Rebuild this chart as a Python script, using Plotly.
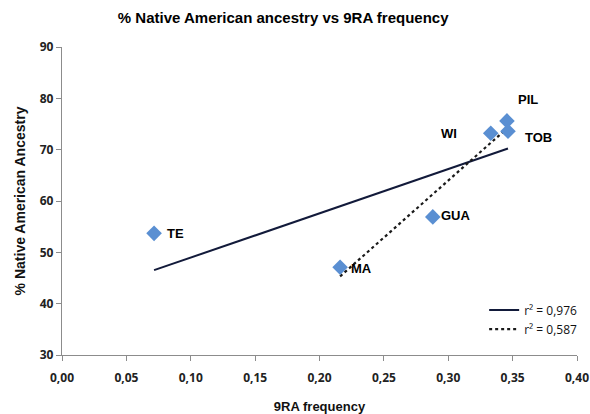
import numpy as np
import plotly.graph_objects as go

# Population samples: 9RA allele frequency vs % Native American ancestry
populations = ["TE", "MA", "GUA", "WI", "PIL", "TOB"]
freq_9ra = [0.0715, 0.216, 0.288, 0.333, 0.3456, 0.3464]
native_ancestry = [53.7, 47.1, 56.9, 73.2, 75.6, 73.6]

# Subset used for the second fit (TE excluded)
subset = ["MA", "GUA", "WI", "PIL", "TOB"]

legend_labels = ["r² = 0,976", "r² = 0,587"]

x_ticks = [0.0, 0.05, 0.10, 0.15, 0.20, 0.25, 0.30, 0.35, 0.40]
x_tick_text = ["0,00", "0,05", "0,10", "0,15", "0,20", "0,25", "0,30", "0,35", "0,40"]
y_ticks = [30, 40, 50, 60, 70, 80, 90]

# label offsets (pixels) relative to each marker
label_offsets = {
    "TE": (21, 0), "MA": (21, -1), "GUA": (23, 1),
    "WI": (-42, 0), "PIL": (21, 21), "TOB": (31, -6),
}

x_all = np.array(freq_9ra)
y_all = np.array(native_ancestry)
idx = [populations.index(p) for p in subset]
x_sub, y_sub = x_all[idx], y_all[idx]


def fit_line(x, y):
    m, b = np.polyfit(x, y, 1)
    xs = np.array([x.min(), x.max()])
    return xs, m * xs + b


fx1, fy1 = fit_line(x_all, y_all)
fx2, fy2 = fit_line(x_sub, y_sub)

fig = go.Figure()

fig.add_trace(go.Scatter(
    x=fx1, y=fy1, mode="lines", name=legend_labels[0],
    line=dict(color="#121a3a", width=2),
))
fig.add_trace(go.Scatter(
    x=fx2, y=fy2, mode="lines", name=legend_labels[1],
    line=dict(color="#1a1a1a", width=2.2, dash="dot"),
))
fig.add_trace(go.Scatter(
    x=freq_9ra, y=native_ancestry, mode="markers", showlegend=False,
    marker=dict(symbol="diamond", size=12, color="#5a8fd2",
                line=dict(width=0)),
))

for name, xv, yv in zip(populations, freq_9ra, native_ancestry):
    dx, dy = label_offsets[name]
    fig.add_annotation(
        x=xv, y=yv, text=f"<b>{name}</b>", showarrow=False,
        xshift=dx, yshift=dy,
        font=dict(family="Liberation Sans", size=13, color="#000000"),
    )

axis_font = dict(family="Open Sans, Liberation Sans", size=12, color="#222222",
                 weight="bold")

fig.update_layout(
    width=590, height=414,
    margin=dict(l=62, r=13, t=47, b=59, autoexpand=False),
    paper_bgcolor="white", plot_bgcolor="white",
    title=dict(
        text="<b>% Native American ancestry vs 9RA frequency</b>",
        x=0.48, xanchor="center", y=0.956, yanchor="middle",
        font=dict(family="Liberation Sans", size=15, color="#000000"),
    ),
    xaxis=dict(
        range=[0, 0.40], tickvals=x_ticks, ticktext=x_tick_text,
        showgrid=False, zeroline=False, showline=True, automargin=False,
        linecolor="#8c8c8c", linewidth=1.3,
        ticks="outside", ticklen=5, tickcolor="#8c8c8c",
        tickfont=axis_font, ticklabelstandoff=6,
        title=dict(text="<b>9RA frequency</b>", standoff=20,
                   font=dict(family="Liberation Sans", size=13, color="#111111")),
    ),
    yaxis=dict(
        range=[30, 90], tickvals=y_ticks,
        showgrid=False, zeroline=False, showline=True, automargin=False,
        linecolor="#8c8c8c", linewidth=1.3,
        ticks="outside", ticklen=5, tickcolor="#8c8c8c",
        tickfont=axis_font,
        title=dict(text="<b>% Native American Ancestry</b>", standoff=10,
                   font=dict(family="Liberation Sans", size=14, color="#111111")),
    ),
    legend=dict(
        x=1.01, y=0.115, xanchor="right", yanchor="middle",
        bgcolor="rgba(0,0,0,0)", itemwidth=30, tracegroupgap=0,
        font=dict(family="Open Sans, Liberation Sans", size=12, color="#111111"),
    ),
    showlegend=True,
)

fig.write_html("out.html")
